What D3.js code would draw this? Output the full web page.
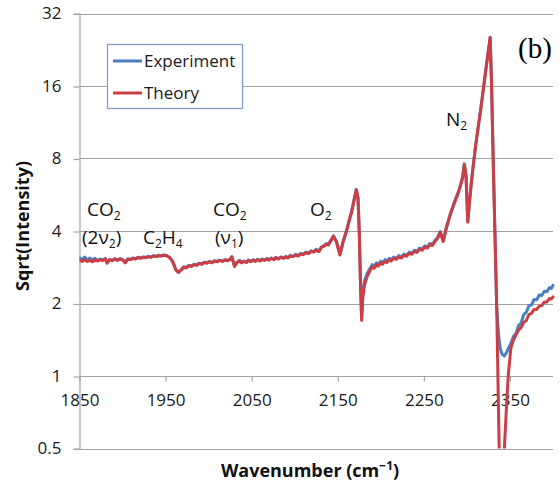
<!DOCTYPE html>
<html>
<head>
<meta charset="utf-8">
<script src="https://cdn.jsdelivr.net/npm/d3@7"></script>
<style>
  html, body { margin: 0; padding: 0; background: #fff; }
  svg { display: block; }
  text { font-family: "Open Sans", "Liberation Sans", sans-serif; fill: #1a1a1a; }
</style>
</head>
<body>
<svg id="chart" width="560" height="483"></svg>
<script>
// Raman spectrum, square root of intensity vs wavenumber (cm^-1)
const wavenumber = [
  1850, 1853, 1856, 1859, 1862, 1865, 1868, 1871, 1874, 1877, 1880, 1882, 1885, 1888, 1891, 1894, 1897, 1900, 1903,
  1906, 1909, 1912, 1915, 1918, 1921, 1924, 1927, 1930, 1933, 1936, 1939, 1942, 1945, 1948, 1951, 1954,
  1958, 1962, 1965, 1968, 1971, 1974, 1977, 1980, 1983, 1986, 1989, 1992, 1995, 1998, 2001, 2004, 2007, 2010, 2013, 2016, 2019, 2022, 2025, 2027, 2030,
  2033, 2036, 2038, 2041, 2044, 2046, 2049, 2052, 2054, 2057, 2060, 2062, 2065, 2068, 2070, 2073, 2076, 2078, 2081, 2084, 2087,
  2090, 2092, 2095, 2098, 2101, 2104, 2107, 2110, 2113, 2116, 2119, 2122, 2125, 2128, 2131, 2134, 2137, 2139,
  2142, 2145, 2148.5, 2152.5, 2156, 2160, 2163, 2166, 2169, 2171.5, 2173.5, 2175, 2176.5, 2177.7, 2179, 2181, 2184,
  2187.5, 2190, 2192, 2195, 2197, 2200, 2202, 2205, 2207, 2210, 2212, 2215, 2218, 2221, 2224, 2227, 2230, 2233, 2236, 2239, 2242, 2245, 2248, 2251, 2254, 2257, 2260, 2263,
  2266, 2269, 2272.5, 2276, 2280, 2284, 2287, 2290, 2293, 2295, 2297, 2299, 2301, 2303, 2305, 2307,
  2310, 2313, 2316, 2319, 2322, 2325, 2327, 2328.5, 2330.5, 2332.5, 2334.5, 2336, 2337.5, 2339, 2341, 2343.5, 2346, 2348,
  2351, 2354, 2357, 2360, 2363, 2366, 2369, 2372, 2375, 2378, 2381, 2384, 2387, 2390, 2393, 2396, 2398, 2400
];

const experiment = [
  3.10, 3.05, 3.12, 3.04, 3.09, 3.03, 3.08, 3.02, 3.06, 3.03, 3.07, 2.95, 3.05, 3.02, 3.07, 3.03, 3.07, 3.05, 2.96,
  3.06, 3.05, 3.09, 3.07, 3.11, 3.09, 3.12, 3.11, 3.14, 3.12, 3.16, 3.14, 3.17, 3.16, 3.18, 3.16, 3.12,
  3.00, 2.76, 2.70, 2.76, 2.84, 2.82, 2.88, 2.86, 2.91, 2.89, 2.94, 2.92, 2.97, 2.95, 2.99, 2.96, 3.01, 2.99, 3.03, 3.00, 3.04, 3.02, 3.06, 3.13, 2.86,
  2.97, 3.02, 2.96, 3.00, 2.97, 3.03, 2.99, 3.04, 3.00, 3.05, 3.01, 3.06, 3.03, 3.08, 3.04, 3.09, 3.05, 3.11, 3.07, 3.12, 3.09,
  3.14, 3.10, 3.17, 3.14, 3.20, 3.16, 3.23, 3.20, 3.27, 3.23, 3.31, 3.28, 3.36, 3.29, 3.44, 3.48, 3.55, 3.52,
  3.66, 3.82, 3.62, 3.20, 3.60, 4.00, 4.40, 4.80, 5.40, 5.95, 5.50, 3.95, 2.40, 1.74, 2.20, 2.48, 2.66,
  2.80, 2.90, 2.85, 2.95, 2.90, 3.00, 2.95, 3.04, 3.00, 3.08, 3.03, 3.12, 3.08, 3.16, 3.12, 3.21, 3.17, 3.27, 3.23, 3.33, 3.29, 3.40, 3.36, 3.47, 3.43, 3.55, 3.52, 3.66,
  3.76, 3.98, 3.64, 4.12, 4.62, 5.10, 5.45, 5.80, 6.30, 6.70, 7.60, 6.80, 4.40, 5.30, 6.30, 7.30,
  9.00, 10.80, 12.80, 15.50, 18.80, 22.50, 25.50, 17.00, 8.00, 4.00, 2.00, 1.62, 1.40, 1.29, 1.23, 1.21, 1.25, 1.30,
  1.36, 1.46, 1.50, 1.62, 1.66, 1.80, 1.84, 1.96, 1.97, 2.08, 2.07, 2.17, 2.16, 2.25, 2.24, 2.33, 2.31, 2.38
];

const theory = [
  3.02, 2.99, 3.04, 2.99, 3.02, 2.98, 3.03, 3.00, 3.04, 3.02, 3.06, 2.94, 3.04, 3.01, 3.06, 3.02, 3.06, 3.04, 2.95,
  3.05, 3.04, 3.08, 3.06, 3.10, 3.08, 3.11, 3.10, 3.13, 3.11, 3.15, 3.13, 3.16, 3.15, 3.17, 3.16, 3.12,
  3.00, 2.75, 2.69, 2.75, 2.83, 2.81, 2.87, 2.85, 2.90, 2.88, 2.93, 2.91, 2.96, 2.94, 2.98, 2.95, 3.00, 2.98, 3.02, 2.99, 3.03, 3.01, 3.05, 3.12, 2.85,
  2.96, 3.01, 2.95, 2.99, 2.96, 3.02, 2.98, 3.03, 2.99, 3.04, 3.00, 3.05, 3.02, 3.06, 3.03, 3.08, 3.04, 3.10, 3.06, 3.11, 3.08,
  3.12, 3.09, 3.15, 3.13, 3.18, 3.15, 3.21, 3.19, 3.25, 3.22, 3.29, 3.27, 3.33, 3.28, 3.42, 3.46, 3.52, 3.50,
  3.64, 3.80, 3.60, 3.18, 3.58, 3.98, 4.38, 4.78, 5.38, 5.93, 5.48, 3.90, 2.30, 1.70, 2.10, 2.38, 2.58,
  2.74, 2.84, 2.80, 2.90, 2.86, 2.95, 2.91, 2.99, 2.96, 3.04, 3.00, 3.08, 3.05, 3.12, 3.09, 3.17, 3.14, 3.23, 3.20, 3.29, 3.26, 3.36, 3.33, 3.43, 3.40, 3.51, 3.48, 3.62,
  3.73, 3.95, 3.62, 4.09, 4.59, 5.06, 5.40, 5.75, 6.25, 6.65, 7.55, 6.70, 4.35, 5.25, 6.25, 7.25,
  8.95, 10.70, 12.70, 15.40, 18.70, 22.40, 25.40, 17.00, 8.00, 4.00, 2.00, 1.00, 0.50, 0.42, 0.42, 0.50, 0.75, 1.00,
  1.30, 1.41, 1.48, 1.55, 1.59, 1.67, 1.70, 1.80, 1.82, 1.89, 1.89, 1.95, 1.96, 2.03, 2.03, 2.10, 2.09, 2.13
];

const seriesNames = ["Experiment", "Theory"];
const seriesColors = ["#4a7fc4", "#cc3e44"];
const yTickValues = [0.5, 1, 2, 4, 8, 16, 32];
const xTickValues = [1850, 1950, 2050, 2150, 2250, 2350];

const svg = d3.select("#chart");
const plot = { left: 79.5, right: 553, top: 13.5, bottom: 448.5 };

const x = d3.scaleLinear().domain([1850, 2400]).range([plot.left, plot.right]);
const y = d3.scaleLog().base(2).domain([0.5, 32]).range([plot.bottom, plot.top]);

const gridColor = "#a3a3a3";

// horizontal gridlines
svg.append("g")
  .selectAll("line")
  .data(yTickValues)
  .join("line")
  .attr("x1", plot.left).attr("x2", plot.right)
  .attr("y1", d => Math.round(y(d)) + 0.5).attr("y2", d => Math.round(y(d)) + 0.5)
  .attr("stroke", gridColor).attr("stroke-width", 1.2);

// y axis
const yAxis = svg.append("g")
  .attr("transform", `translate(${plot.left},0)`)
  .call(d3.axisLeft(y).tickValues(yTickValues).tickSize(6).tickPadding(12)
    .tickFormat(d => String(d)));
yAxis.select(".domain").attr("stroke", gridColor).attr("stroke-width", 1.2);
yAxis.selectAll(".tick line").attr("stroke", gridColor).attr("stroke-width", 1.2)
  .attr("transform", "translate(0,0.5)");
yAxis.selectAll(".tick text").attr("font-size", 17).attr("fill", "#222")
  .style("font-family", '"Open Sans", sans-serif');

// x axis sits on the value 1
const xAxis = svg.append("g")
  .attr("transform", `translate(0,${Math.round(y(1)) + 0.5})`)
  .call(d3.axisBottom(x).tickValues(xTickValues).tickSize(5).tickPadding(12)
    .tickFormat(d3.format("d")));
xAxis.select(".domain").remove();
xAxis.selectAll(".tick line").attr("stroke", gridColor).attr("stroke-width", 1.2);
xAxis.selectAll(".tick text").attr("font-size", 17).attr("fill", "#222")
  .style("font-family", '"Open Sans", sans-serif');

// spectra
svg.append("clipPath").attr("id", "plot-clip")
  .append("rect")
  .attr("x", plot.left).attr("y", plot.top - 4)
  .attr("width", plot.right - plot.left + 2).attr("height", plot.bottom - plot.top + 4);

const line = d3.line()
  .x(d => x(d[0]))
  .y(d => y(d[1]));

const seriesData = [experiment, theory];
svg.append("g").attr("clip-path", "url(#plot-clip)")
  .selectAll("path")
  .data(seriesData)
  .join("path")
  .attr("d", vals => line(wavenumber.map((w, i) => [w, vals[i]])))
  .attr("fill", "none")
  .attr("stroke", (d, i) => seriesColors[i])
  .attr("stroke-width", 3)
  .attr("stroke-linejoin", "round")
  .attr("stroke-linecap", "round");

// legend
const legend = svg.append("g");
legend.append("rect")
  .attr("x", 107.5).attr("y", 44.5).attr("width", 135).attr("height", 64)
  .attr("fill", "#fff").attr("stroke", "#7b9bd1").attr("stroke-width", 1.2);
const legendRows = legend.selectAll("g.row")
  .data(seriesNames)
  .join("g").attr("class", "row")
  .attr("transform", (d, i) => `translate(0,${61 + i * 32})`);
legendRows.append("line")
  .attr("x1", 113).attr("x2", 142).attr("y1", 0).attr("y2", 0)
  .attr("stroke", (d, i) => seriesColors[i]).attr("stroke-width", 3);
legendRows.append("text")
  .attr("x", 144).attr("y", 0).attr("dy", "0.35em")
  .attr("font-size", 17)
  .text(d => d);

// panel tag
svg.append("text")
  .attr("x", 518).attr("y", 58)
  .attr("font-size", 29)
  .style("font-family", '"Liberation Serif", "DejaVu Serif", serif')
  .style("fill", "#000")
  .text("(b)");

// peak annotations: each part is [string, isSubscript]
const annotations = [
  { x: 87, y: 216, parts: [["CO", false], ["2", true]] },
  { x: 82, y: 244, parts: [["(2ν", false], ["2", true], [")", false]] },
  { x: 143, y: 244, parts: [["C", false], ["2", true], ["H", false], ["4", true]] },
  { x: 213, y: 216, parts: [["CO", false], ["2", true]] },
  { x: 215, y: 244, parts: [["(ν", false], ["1", true], [")", false]] },
  { x: 310, y: 216, parts: [["O", false], ["2", true]] },
  { x: 446, y: 126, parts: [["N", false], ["2", true]] }
];

const annG = svg.append("g");
annotations.forEach(a => {
  const t = annG.append("text")
    .attr("x", a.x).attr("y", a.y)
    .attr("font-size", 19)
    .style("fill", "#111");
  let shifted = false;
  a.parts.forEach(([s, sub]) => {
    const ts = t.append("tspan").text(s);
    if (sub && !shifted) { ts.attr("dy", 4).attr("font-size", 12); shifted = true; }
    else if (sub) { ts.attr("font-size", 12); }
    else if (shifted) { ts.attr("dy", -4); shifted = false; }
  });
});

// axis titles
svg.append("text")
  .attr("transform", "translate(29,226) rotate(-90)")
  .attr("text-anchor", "middle")
  .attr("font-size", 18)
  .attr("font-weight", "bold")
  .style("fill", "#111")
  .text("Sqrt(Intensity)");

const xTitle = svg.append("text")
  .attr("x", 310).attr("y", 477)
  .attr("text-anchor", "middle")
  .attr("font-size", 18)
  .attr("font-weight", "bold")
  .style("fill", "#111");
xTitle.append("tspan").text("Wavenumber (cm");
xTitle.append("tspan").attr("dy", -7).attr("font-size", 12).text("\u22121");
xTitle.append("tspan").attr("dy", 7).text(")");
</script>
</body>
</html>
